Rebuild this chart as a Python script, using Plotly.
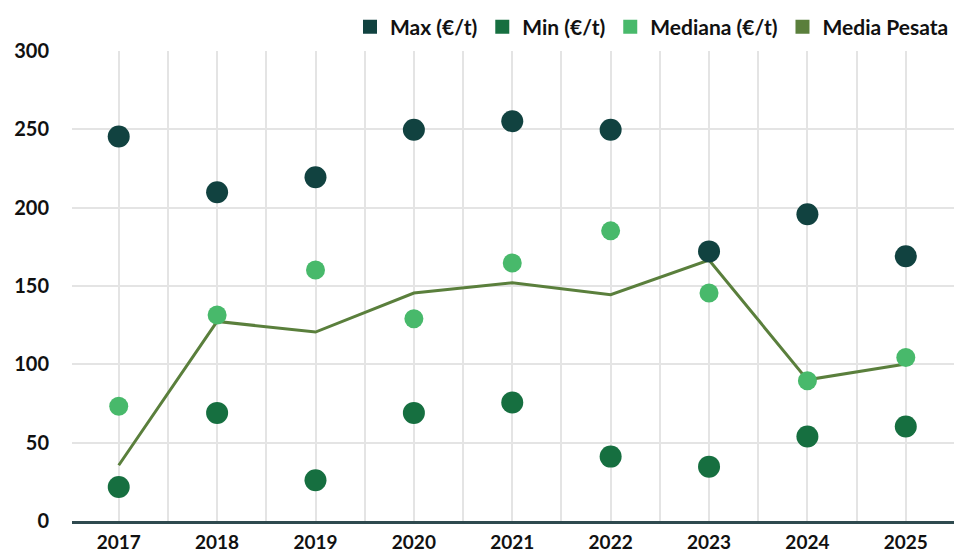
import plotly.graph_objects as go

years = [2017, 2018, 2019, 2020, 2021, 2022, 2023, 2024, 2025]
max_vals = [245.4, 209.9, 219.4, 249.7, 255.2, 249.7, 172.1, 195.8, 169.0]
min_vals = [21.7, 69.0, 26.0, 69.0, 75.6, 41.1, 34.7, 53.9, 60.3]
mediana_vals = [73.3, 131.5, 160.2, 129.1, 164.7, 185.2, 145.5, 89.5, 104.4]
media_pesata_vals = [35.6, 127.4, 120.6, 145.5, 152.1, 144.5, 166.6, 90.1, 100.2]

series_names = ["Max (€/t)", "Min (€/t)", "Mediana (€/t)", "Media Pesata"]
colors = ["#114240", "#166f40", "#48b96b", "#5a7f3c"]
y_ticks = [0, 50, 100, 150, 200, 250, 300]

FONT = "Lato"

fig = go.Figure()

# line first so markers sit on top
fig.add_trace(go.Scatter(x=years, y=media_pesata_vals, mode="lines",
                         line=dict(color=colors[3], width=3),
                         name=series_names[3], showlegend=False))
fig.add_trace(go.Scatter(x=years, y=max_vals, mode="markers",
                         marker=dict(color=colors[0], size=22),
                         name=series_names[0], showlegend=False))
fig.add_trace(go.Scatter(x=years, y=min_vals, mode="markers",
                         marker=dict(color=colors[1], size=22),
                         name=series_names[1], showlegend=False))
fig.add_trace(go.Scatter(x=years, y=mediana_vals, mode="markers",
                         marker=dict(color=colors[2], size=19),
                         name=series_names[2], showlegend=False))

# legend entries with square swatches
for name, col in zip(series_names, colors):
    fig.add_trace(go.Scatter(x=[None], y=[None], mode="markers",
                             marker=dict(color=col, size=14, symbol="square"),
                             name=name, showlegend=True))

fig.update_layout(
    width=954, height=554,
    margin=dict(l=72, r=0, t=51, b=33, autoexpand=False),
    paper_bgcolor="white", plot_bgcolor="white",
    font=dict(family=FONT, size=20, color="#111111"),
    legend=dict(orientation="h", x=1.0, xanchor="right", y=1.051, yanchor="middle",
                font=dict(family=FONT, size=21, color="#111111", weight="bold"),
                itemwidth=30, tracegroupgap=0, bgcolor="rgba(0,0,0,0)",
                itemclick=False),
    showlegend=True,
)

fig.update_xaxes(
    range=[2016.525, 2025.49], tickmode="array", tickvals=years,
    ticktext=[str(y) for y in years], automargin=False,
    showgrid=True, gridcolor="#e4e4e4", gridwidth=1.5,
    minor=dict(dtick=0.5, tick0=2016.5, showgrid=True, gridcolor="#e4e4e4", gridwidth=1.5),
    showline=True, linecolor="#2f4a4f", linewidth=3,
    tickfont=dict(family=FONT, size=19, color="#111111", weight="bold"),
    ticks="", zeroline=False, ticklabelstandoff=2,
)
fig.update_yaxes(
    range=[0, 300], tickmode="array", tickvals=y_ticks, automargin=False,
    showgrid=True, gridcolor="#e4e4e4", gridwidth=1.5,
    showline=False, zeroline=False, ticks="",
    tickfont=dict(family=FONT, size=20, color="#111111", weight="bold"),
    ticklabelstandoff=22,
)

fig.write_html("out.html", config={"displayModeBar": False},
               post_script="document.body.style.margin='0';document.body.style.overflow='hidden';")
